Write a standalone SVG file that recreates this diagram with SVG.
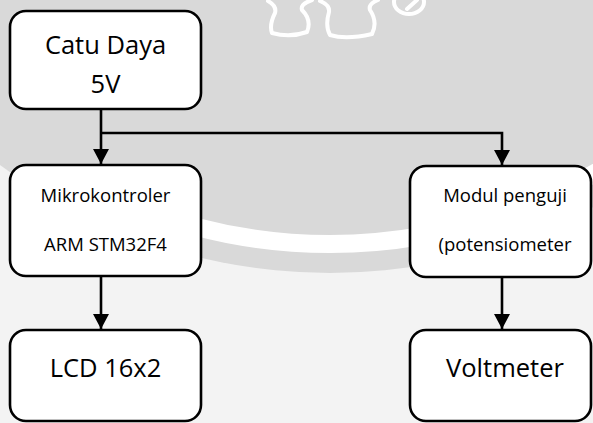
<svg xmlns="http://www.w3.org/2000/svg" width="593" height="423" viewBox="0 0 593 423">
  <defs>
    <style>
      .box { fill: #ffffff; stroke: #000000; stroke-width: 2.6; }
      .wire { fill: none; stroke: #000000; stroke-width: 2.6; }
      .big { font-family: "Open Sans", "Liberation Sans", sans-serif; font-size: 25.5px; fill: #000000; text-anchor: middle; }
      .small { font-family: "Open Sans", "Liberation Sans", sans-serif; font-size: 18.5px; fill: #000000; text-anchor: middle; }
      .emblem { fill: none; stroke: #ffffff; stroke-width: 4; stroke-linecap: round; stroke-linejoin: round; }
    </style>
    <marker id="arrow" markerUnits="userSpaceOnUse" markerWidth="16" markerHeight="16" viewBox="0 0 16 16" refX="15" refY="8" orient="auto">
      <path d="M0,0 L15,8 L0,16 Z" fill="#000000"/>
    </marker>
    <clipPath id="ring-clip">
      <rect x="110" y="0" width="483" height="423"/>
    </clipPath>
  </defs>

  <!-- page background with the emblem disc and ring -->
  <g id="background">
    <rect x="0" y="0" width="593" height="423" fill="#f3f3f3"/>
    <circle cx="330" cy="-285" r="558" fill="#d9d9d9"/>
    <circle cx="330" cy="-285" r="529" fill="none" stroke="#ffffff" stroke-width="18" clip-path="url(#ring-clip)"/>
    <path class="emblem" d="M268,1 Q277,6 275,13 Q269,25 272,33 Q290,38 307,32 Q312,20 302,10 Q300,4 312,0"/>
    <path class="emblem" d="M320,1 Q330,5 329,12 Q325,26 330,35 Q346,40 372,34 Q378,22 370,10 Q368,4 378,0"/>
    <ellipse class="emblem" cx="409" cy="2" rx="15" ry="12"/>
    <path class="emblem" d="M407,9 L417,0"/>
  </g>

  <!-- connectors -->
  <g id="connectors">
    <path class="wire" d="M101,109 L101,164" marker-end="url(#arrow)"/>
    <path class="wire" d="M101,133 L502,133 L502,165" marker-end="url(#arrow)"/>
    <path class="wire" d="M101,276 L101,329" marker-end="url(#arrow)"/>
    <path class="wire" d="M502,277 L502,329" marker-end="url(#arrow)"/>
  </g>

  <g id="catu-daya">
    <rect class="box" x="10" y="11" width="191" height="98" rx="16"/>
    <text class="big" x="105.5" y="54">Catu Daya</text>
    <text class="big" x="105.5" y="93">5V</text>
  </g>

  <g id="mikrokontroler">
    <rect class="box" x="10" y="165" width="191" height="111" rx="16"/>
    <text class="small" x="105.5" y="202">Mikrokontroler</text>
    <text class="small" x="105.5" y="251">ARM STM32F4</text>
  </g>

  <g id="modul-penguji">
    <rect class="box" x="410" y="166" width="181" height="111" rx="16"/>
    <text class="small" x="505" y="202">Modul penguji</text>
    <text class="small" x="505" y="251">(potensiometer</text>
  </g>

  <g id="lcd">
    <rect class="box" x="10" y="330" width="191" height="91" rx="16"/>
    <text class="big" x="105.5" y="377">LCD 16x2</text>
  </g>

  <g id="voltmeter">
    <rect class="box" x="410" y="330" width="181" height="91" rx="16"/>
    <text class="big" x="505" y="377">Voltmeter</text>
  </g>
</svg>
